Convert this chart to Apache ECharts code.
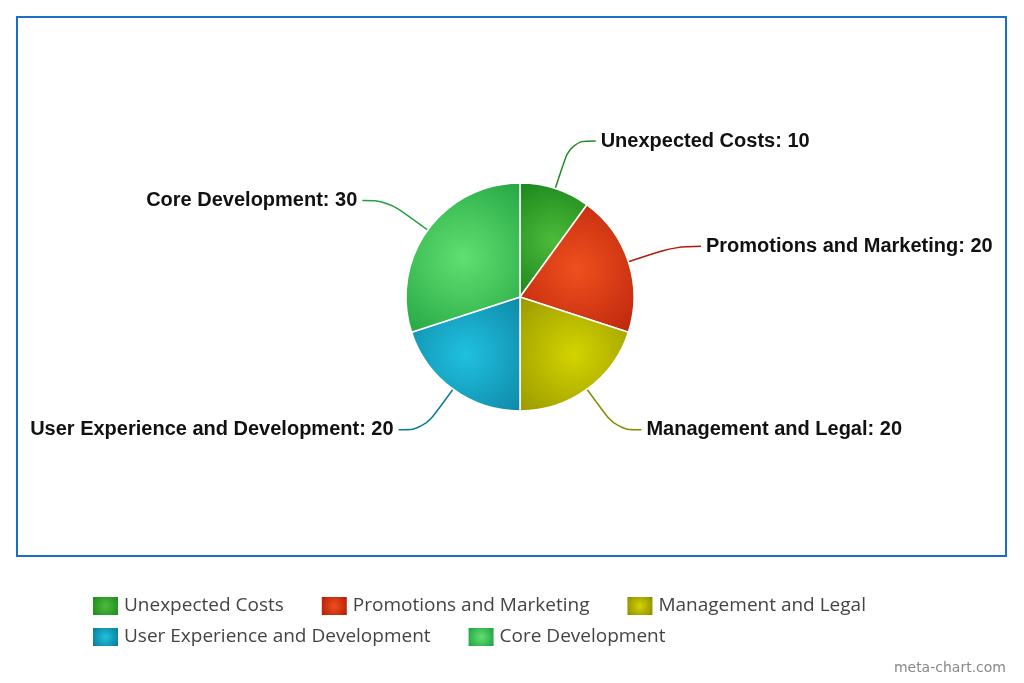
<!DOCTYPE html>
<html><head><meta charset="utf-8">
<script src="https://cdn.jsdelivr.net/npm/echarts@6/dist/echarts.min.js"></script>
<style>html,body{margin:0;padding:0;background:#fff}#c{width:1024px;height:683px}
#box{position:absolute;left:16px;top:16px;width:987px;height:537px;border:2.5px solid #1b6fc2;pointer-events:none}</style>
</head><body><div id="c"></div><div id="box"></div>
<script>
const categories=["Unexpected Costs","Promotions and Marketing","Management and Legal","User Experience and Development","Core Development"];
const values=[10,20,20,20,30];
const colorsLight=["#4cbb3a","#f0501e","#d4d400","#20c0e0","#60e070"];
const colorsDark=["#1e8a1e","#b01c08","#8a8a00","#0a7a98","#20a040"];
const chart=echarts.init(document.getElementById('c'));
function grad(i){return new echarts.graphic.RadialGradient(0.5,0.5,0.9,[{offset:0,color:colorsLight[i]},{offset:1,color:colorsDark[i]}]);}
function lgrad(i){return new echarts.graphic.RadialGradient(0.5,0.5,0.7,[{offset:0,color:colorsLight[i]},{offset:1,color:colorsDark[i]}]);}
const legBase={itemWidth:27,itemHeight:20,itemGap:36,icon:'rect',orient:'horizontal',
   textStyle:{fontFamily:'Open Sans',fontSize:19,color:'#444'}};
chart.setOption({
 animation:false,
 legend:[
  Object.assign({},legBase,{top:590,left:86,data:[0,1,2].map(i=>({name:categories[i],itemStyle:{color:lgrad(i)}}))}),
  Object.assign({},legBase,{top:621,left:86,data:[3,4].map(i=>({name:categories[i],itemStyle:{color:lgrad(i)}}))})
 ],
 graphic:[{type:'text',right:18,bottom:8,style:{text:'meta-chart.com',fontFamily:'DejaVu Sans',fontSize:14,fill:'#888'}}],
 series:[{type:'pie',center:[520,297],radius:114,startAngle:90,clockwise:true,
   itemStyle:{borderColor:'#fff',borderWidth:1.5},
   label:{formatter:'{b}: {c}',fontFamily:'Liberation Sans',fontWeight:'bold',fontSize:20,color:'#111'},
   labelLine:{length:50,length2:25,smooth:0.4,lineStyle:{width:1.5}},
   data:categories.map((c,i)=>({name:c,value:values[i],itemStyle:{color:grad(i)},labelLine:{lineStyle:{color:colorsDark[i]}}}))}]
});
</script></body></html>
